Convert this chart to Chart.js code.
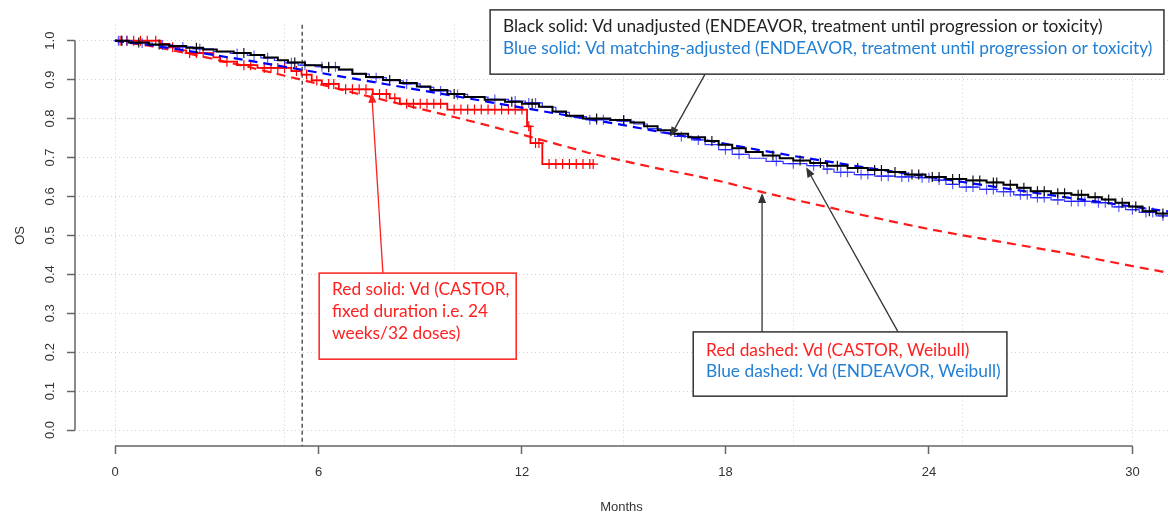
<!DOCTYPE html>
<html>
<head>
<meta charset="utf-8">
<script src="https://cdn.jsdelivr.net/npm/chart.js@4.4.1/dist/chart.umd.min.js"></script>
<style>
  html, body { margin: 0; padding: 0; background: #fff; }
  canvas { display: block; }
</style>
</head>
<body>
<canvas id="osChart" width="1168" height="513"></canvas>
<script>
// axis ticks
const xTickLabels = [0, 6, 12, 18, 24, 30];
const xGridLines = [0, 5, 10, 15, 20, 25, 30];
const yTicks = [0, 0.1, 0.2, 0.3, 0.4, 0.5, 0.6, 0.7, 0.8, 0.9, 1.0];
const cutoffMonth = 5.52; // 24 weeks

// Kaplan-Meier steps [month, OS] and censor marks [month, OS]
const blackKM = [[0,1.000],[0.4,0.995],[1.0,0.990],[1.6,0.986],[2.1,0.982],[2.6,0.977],[3.0,0.972],[3.5,0.968],
  [4.0,0.963],[4.4,0.957],[4.8,0.950],[5.1,0.944],[5.6,0.937],[6.1,0.932],[6.6,0.926],[7.0,0.915],[7.4,0.907],
  [7.9,0.899],[8.4,0.891],[8.9,0.882],[9.3,0.873],[9.8,0.863],[10.3,0.855],[10.9,0.848],[11.5,0.843],[12.0,0.838],
  [12.5,0.830],[12.9,0.818],[13.3,0.807],[13.8,0.800],[14.6,0.796],[15.2,0.790],[15.6,0.780],[16.0,0.770],
  [16.4,0.761],[16.9,0.752],[17.4,0.742],[17.8,0.733],[18.2,0.724],[18.6,0.714],[19.1,0.705],[19.6,0.698],
  [20.0,0.692],[20.5,0.686],[21.0,0.679],[21.6,0.673],[22.2,0.668],[22.8,0.663],[23.3,0.656],[23.9,0.650],
  [24.5,0.645],[25.1,0.641],[25.7,0.636],[26.2,0.630],[26.6,0.622],[27.0,0.613],[27.6,0.608],[28.2,0.604],
  [28.7,0.598],[29.1,0.592],[29.5,0.584],[29.9,0.574],[30.3,0.562],[30.7,0.556],[31.2,0.556]];
const blackCensor = [[0.2,1.000],[0.7,0.995],[1.3,0.990],[2.4,0.982],[3.8,0.968],[5.3,0.944],[6.3,0.932],[8.1,0.899],
  [10.0,0.863],[11.7,0.843],[12.3,0.838],[14.2,0.800],[15.0,0.796],[17.6,0.742],[19.4,0.705],[20.2,0.692],
  [20.8,0.686],[21.3,0.679],[21.9,0.673],[22.4,0.668],[22.6,0.668],[23.0,0.663],[23.5,0.656],[23.7,0.656],
  [24.1,0.650],[24.3,0.650],[24.7,0.645],[24.9,0.645],[25.3,0.641],[25.5,0.641],[25.9,0.636],[26.0,0.636],
  [26.4,0.630],[26.8,0.622],[27.2,0.613],[27.4,0.613],[27.8,0.608],[28.0,0.608],[28.4,0.604],[28.5,0.604],
  [28.9,0.598],[29.3,0.592],[29.7,0.584],[30.1,0.574],[30.5,0.562],[30.9,0.556]];

const blueKM = [[0,1.000],[0.5,0.994],[1.1,0.989],[1.7,0.984],[2.3,0.979],[2.9,0.972],[3.4,0.967],[3.9,0.962],
  [4.3,0.956],[4.7,0.949],[5.0,0.943],[5.4,0.937],[5.9,0.933],[6.6,0.925],[7.0,0.914],[7.5,0.905],[8.0,0.897],
  [8.5,0.889],[9.0,0.880],[9.4,0.871],[9.9,0.862],[10.4,0.855],[11.0,0.849],[11.6,0.845],[12.1,0.840],
  [12.6,0.829],[13.0,0.816],[13.4,0.805],[13.9,0.797],[14.8,0.793],[15.3,0.786],[15.7,0.774],[16.1,0.763],
  [16.5,0.754],[17.0,0.745],[17.4,0.733],[17.8,0.720],[18.2,0.708],[18.7,0.698],[19.2,0.690],[19.7,0.684],
  [20.4,0.679],[20.9,0.670],[21.2,0.662],[21.8,0.656],[22.4,0.652],[23.0,0.650],[23.6,0.648],[24.1,0.642],
  [24.5,0.631],[24.9,0.624],[25.5,0.618],[26.0,0.612],[26.5,0.604],[27.0,0.597],[27.6,0.591],[28.0,0.587],
  [28.8,0.584],[29.4,0.573],[29.8,0.566],[30.2,0.559],[30.7,0.550],[31.2,0.550]];
const blueCensor = [[0.1,1.000],[0.2,1.000],[0.35,1.000],[0.8,0.994],[1.4,0.989],[2.0,0.984],[2.5,0.979],[3.6,0.967],
  [4.1,0.962],[4.5,0.956],[5.2,0.943],[5.6,0.937],[6.1,0.933],[6.3,0.933],[6.5,0.933],[7.7,0.905],[8.6,0.889],
  [9.6,0.871],[10.1,0.862],[11.2,0.849],[11.8,0.845],[12.2,0.840],[12.4,0.840],[14.0,0.797],[14.2,0.797],
  [14.4,0.797],[15.0,0.793],[16.7,0.754],[17.2,0.745],[18.0,0.720],[18.4,0.708],[19.5,0.690],[20.0,0.684],
  [20.6,0.679],[21.0,0.670],[21.4,0.662],[21.6,0.662],[22.0,0.656],[22.2,0.656],[22.6,0.652],[22.8,0.652],
  [23.2,0.650],[23.4,0.650],[23.8,0.648],[24.0,0.648],[24.3,0.642],[24.7,0.631],[25.1,0.624],[25.3,0.624],
  [25.7,0.618],[25.9,0.618],[26.2,0.612],[26.4,0.612],[26.7,0.604],[26.9,0.604],[27.2,0.597],[27.4,0.597],
  [27.8,0.591],[28.2,0.587],[28.4,0.587],[28.6,0.587],[29.0,0.584],[29.2,0.584],[29.6,0.573],[30.0,0.566],
  [30.4,0.559],[30.6,0.559],[30.9,0.550]];

const redKM = [[0,1.000],[1.35,0.992],[1.6,0.983],[1.9,0.975],[2.1,0.968],[2.9,0.957],[3.1,0.946],[3.6,0.937],
  [4.2,0.930],[5.2,0.922],[5.5,0.913],[5.8,0.898],[6.1,0.889],[6.6,0.875],[7.6,0.863],[8.1,0.852],[8.4,0.838],
  [9.8,0.823],[12.15,0.780],[12.25,0.737],[12.6,0.683],[14.1,0.683]];
const redCensor = [[0.15,1.000],[0.35,1.000],[0.55,1.000],[0.75,1.000],[0.95,1.000],[1.2,1.000],[1.7,0.983],
  [2.2,0.968],[2.4,0.968],[2.6,0.968],[3.3,0.946],[3.8,0.937],[4.0,0.937],[4.4,0.930],[4.6,0.930],[4.8,0.930],
  [5.0,0.930],[5.35,0.922],[5.65,0.913],[5.95,0.898],[6.3,0.889],[6.45,0.889],[6.8,0.875],[7.0,0.875],
  [7.2,0.875],[7.4,0.875],[7.8,0.863],[8.0,0.863],[8.25,0.852],[8.6,0.838],[8.8,0.838],[9.0,0.838],[9.2,0.838],
  [9.4,0.838],[9.6,0.838],[10.0,0.823],[10.2,0.823],[10.4,0.823],[10.6,0.823],[10.8,0.823],[11.0,0.823],
  [11.2,0.823],[11.4,0.823],[11.6,0.823],[11.8,0.823],[12.0,0.823],[12.2,0.780],[12.4,0.737],[12.5,0.737],
  [12.8,0.683],[13.0,0.683],[13.2,0.683],[13.4,0.683],[13.6,0.683],[13.8,0.683],[14.0,0.683],[14.1,0.683]];

// Weibull curves
const weibullMonths = [0,1,2,3,4,5,6,7,8,9,10,11,12,13,14,15,16,17,18,19,20,21,22,23,24,25,26,27,28,29,30,31,31.5];
const redWeibullOS = [1.000,0.987,0.970,0.951,0.931,0.910,0.889,0.867,0.846,0.825,0.804,0.782,0.759,0.735,0.711,
  0.691,0.672,0.655,0.636,0.613,0.592,0.573,0.553,0.534,0.516,0.500,0.485,0.470,0.455,0.438,0.421,0.405,0.398];
const blueWeibullOS = [1.000,0.989,0.976,0.962,0.948,0.933,0.918,0.903,0.888,0.873,0.858,0.843,0.828,0.813,0.798,
  0.783,0.767,0.751,0.735,0.719,0.704,0.690,0.676,0.663,0.650,0.637,0.624,0.611,0.598,0.586,0.574,0.562,0.556];

// callout boxes and arrows, in data units
const blueText = '#2380d4';
const noteBoxes = [
  { x0: 11.06, x1: 30.93, top: 1.079, bottom: 0.914, border: '#333', textX: 11.44, lines: [
    { text: 'Black solid: Vd unadjusted (ENDEAVOR, treatment until progression or toxicity)', color: '#222', y: 1.036 },
    { text: 'Blue solid: Vd matching-adjusted (ENDEAVOR, treatment until progression or toxicity)', color: blueText, y: 0.980 } ] },
  { x0: 6.02, x1: 11.83, top: 0.403, bottom: 0.182, border: '#ff2020', textX: 6.40, lines: [
    { text: 'Red solid: Vd (CASTOR,', color: '#ff2020', y: 0.360 },
    { text: 'fixed duration i.e. 24', color: '#ff2020', y: 0.304 },
    { text: 'weeks/32 doses)', color: '#ff2020', y: 0.249 } ] },
  { x0: 17.05, x1: 26.30, top: 0.252, bottom: 0.087, border: '#333', textX: 17.43, lines: [
    { text: 'Red dashed: Vd (CASTOR, Weibull)', color: '#ff2020', y: 0.205 },
    { text: 'Blue dashed: Vd (ENDEAVOR, Weibull)', color: blueText, y: 0.150 } ] }
];
const noteArrows = [
  { from: [17.40, 0.914], to: [16.37, 0.753], color: '#333' },
  { from: [7.90, 0.403], to: [7.57, 0.866], color: '#ff2020' },
  { from: [19.08, 0.252], to: [19.08, 0.609], color: '#333' },
  { from: [23.09, 0.252], to: [20.38, 0.675], color: '#333' }
];

const toXY = pairs => pairs.map(p => ({ x: p[0], y: p[1] }));
const curve = (ys) => weibullMonths.map((m, i) => ({ x: m, y: ys[i] }));

const kmLine = (data, color, width) => ({
  data: toXY(data), showLine: true, stepped: true, borderColor: color, borderWidth: width,
  pointRadius: 0, fill: false
});
const censorMarks = (data, color) => ({
  data: toXY(data), showLine: false, pointStyle: 'cross', pointRadius: 5,
  pointBorderColor: color, pointBorderWidth: 1.2, pointBackgroundColor: color
});
const dashLine = (ys, color) => ({
  data: curve(ys), showLine: true, borderColor: color, borderWidth: 2.2, borderDash: [9, 6],
  pointRadius: 0, fill: false
});

const axisGray = '#666';
const labelFont = { family: 'Liberation Sans, Arial, sans-serif', size: 13 };

const axesPlugin = {
  id: 'rAxes',
  beforeDatasetsDraw(chart) {
    const { ctx, chartArea } = chart;
    const xs = chart.scales.x, ys = chart.scales.y;
    ctx.save();
    ctx.strokeStyle = axisGray;
    ctx.lineWidth = 1.5;
    ctx.beginPath();
    ctx.moveTo(chartArea.left, ys.getPixelForValue(yTicks[0]));
    ctx.lineTo(chartArea.left, ys.getPixelForValue(yTicks[yTicks.length - 1]));
    ctx.moveTo(xs.getPixelForValue(xTickLabels[0]), chartArea.bottom);
    ctx.lineTo(xs.getPixelForValue(xTickLabels[xTickLabels.length - 1]), chartArea.bottom);
    ctx.stroke();
    // 24-week cut-off
    const cx = xs.getPixelForValue(cutoffMonth);
    ctx.strokeStyle = '#555';
    ctx.setLineDash([4, 3]);
    ctx.beginPath();
    ctx.moveTo(cx, chartArea.top);
    ctx.lineTo(cx, chartArea.bottom);
    ctx.stroke();
    ctx.restore();
  }
};

const notesPlugin = {
  id: 'notes',
  afterDraw(chart) {
    const ctx = chart.ctx;
    const px = v => chart.scales.x.getPixelForValue(v);
    const py = v => chart.scales.y.getPixelForValue(v);
    ctx.save();
    ctx.font = '16px Lato';
    const fontPx = 16 * 600 / ctx.measureText(noteBoxes[0].lines[0].text).width;

    noteArrows.forEach(a => {
      const x1 = px(a.from[0]), y1 = py(a.from[1]), x2 = px(a.to[0]), y2 = py(a.to[1]);
      const ang = Math.atan2(y2 - y1, x2 - x1);
      ctx.strokeStyle = a.color;
      ctx.fillStyle = a.color;
      ctx.lineWidth = 1.3;
      ctx.beginPath();
      ctx.moveTo(x1, y1);
      ctx.lineTo(x2 - 8 * Math.cos(ang), y2 - 8 * Math.sin(ang));
      ctx.stroke();
      ctx.beginPath();
      ctx.moveTo(x2, y2);
      ctx.lineTo(x2 - 10 * Math.cos(ang) + 4 * Math.sin(ang), y2 - 10 * Math.sin(ang) - 4 * Math.cos(ang));
      ctx.lineTo(x2 - 10 * Math.cos(ang) - 4 * Math.sin(ang), y2 - 10 * Math.sin(ang) + 4 * Math.cos(ang));
      ctx.closePath();
      ctx.fill();
    });

    noteBoxes.forEach(b => {
      const x0 = px(b.x0), x1 = px(b.x1), y0 = py(b.top), y1 = py(b.bottom);
      ctx.fillStyle = '#fff';
      ctx.fillRect(x0, y0, x1 - x0, y1 - y0);
      ctx.strokeStyle = b.border;
      ctx.lineWidth = 1.5;
      ctx.strokeRect(x0, y0, x1 - x0, y1 - y0);
      ctx.font = fontPx.toFixed(2) + 'px Lato';
      ctx.textAlign = 'left';
      ctx.textBaseline = 'middle';
      b.lines.forEach(l => {
        ctx.fillStyle = l.color;
        ctx.fillText(l.text, px(b.textX), py(l.y));
      });
    });
    ctx.restore();
  }
};

const xAllTicks = [...new Set([...xGridLines, ...xTickLabels])].sort((a, b) => a - b);

new Chart(document.getElementById('osChart'), {
  type: 'scatter',
  data: {
    datasets: [
      kmLine(blackKM, '#000', 2),
      censorMarks(blackCensor, '#111'),
      kmLine(blueKM, 'rgba(20,20,255,0.85)', 1.2),
      censorMarks(blueCensor, 'rgba(20,20,255,0.7)'),
      dashLine(blueWeibullOS, '#0000ff'),
      kmLine(redKM, '#ff0000', 1.8),
      censorMarks(redCensor, '#ff0000'),
      dashLine(redWeibullOS, '#ff1a1a')
    ]
  },
  options: {
    responsive: false,
    animation: false,
    devicePixelRatio: 1,
    layout: { autoPadding: false, padding: { top: 24.7, right: 0, bottom: 0, left: 0 } },
    plugins: { legend: { display: false }, tooltip: { enabled: false } },
    scales: {
      x: {
        type: 'linear', min: -1.18, max: 31.05,
        afterBuildTicks: s => { s.ticks = xAllTicks.map(v => ({ value: v })); },
        afterFit: s => { s.height = 67; s.paddingLeft = 0; s.paddingRight = 0; },
        ticks: {
          autoSkip: false, maxRotation: 0, padding: 11, color: '#333', font: labelFont,
          callback: v => xTickLabels.includes(v) ? String(v) : ''
        },
        grid: {
          lineWidth: 1, tickLength: 8, tickWidth: 1.5, tickBorderDash: [],
          borderDash: [1, 3],
          color: c => (c.tick && xGridLines.includes(c.tick.value)) ? '#d0d0d0' : 'rgba(0,0,0,0)',
          tickColor: c => (c.tick && xTickLabels.includes(c.tick.value)) ? axisGray : 'rgba(0,0,0,0)'
        },
        border: { display: false, dash: [1, 3] },
        title: { display: true, text: 'Months', color: '#333', font: labelFont, padding: { top: 0, bottom: -2 } }
      },
      y: {
        type: 'linear', min: -0.041, max: 1.041,
        afterBuildTicks: s => { s.ticks = yTicks.map(v => ({ value: v })); },
        afterFit: s => { s.width = 75; s.paddingTop = 0; s.paddingBottom = 0; },
        ticks: {
          minRotation: 90, maxRotation: 90, crossAlign: 'center', padding: 8, color: '#333', font: labelFont,
          callback: v => v.toFixed(1)
        },
        grid: {
          lineWidth: 1, tickLength: 8, tickWidth: 1.5, tickBorderDash: [],
          borderDash: [1, 3], color: '#d0d0d0', tickColor: axisGray
        },
        border: { display: false, dash: [1, 3] },
        title: { display: true, text: 'OS', color: '#333', font: labelFont, padding: { top: 13, bottom: 0 } }
      }
    }
  },
  plugins: [axesPlugin, notesPlugin]
});
</script>
</body>
</html>
